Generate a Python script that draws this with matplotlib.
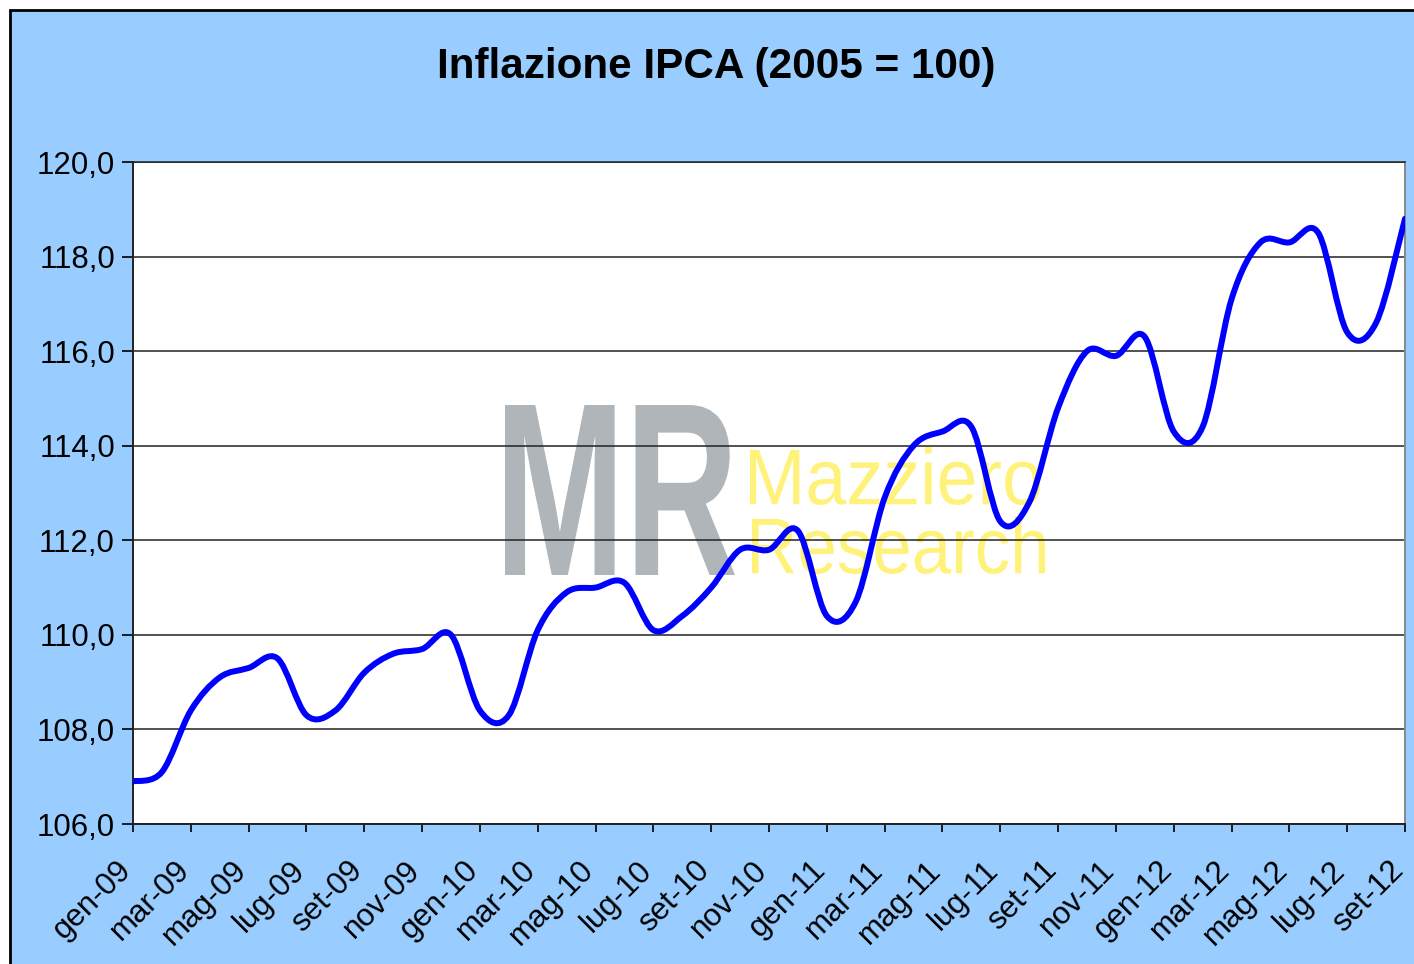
import numpy as np
import matplotlib
matplotlib.use("Agg")
import matplotlib.pyplot as plt
from matplotlib.path import Path
from matplotlib.patches import PathPatch, Rectangle
from matplotlib.textpath import TextPath
from matplotlib.font_manager import FontProperties
from matplotlib.transforms import Affine2D, ScaledTranslation

plt.rcParams['font.family'] = ['Liberation Sans', 'DejaVu Sans']

# IPCA index, monthly from gen-09 to set-12
ipca_2009 = [106.9, 107.1, 108.4, 109.1, 109.3, 109.5, 108.3, 108.4, 109.2, 109.6, 109.7, 110.0]
ipca_2010 = [108.4, 108.3, 110.1, 110.9, 111.0, 111.1, 110.1, 110.4, 111.0, 111.8, 111.8, 112.2]
ipca_2011 = [110.4, 110.7, 112.9, 114.0, 114.3, 114.4, 112.4, 112.8, 114.8, 116.0, 115.9, 116.3]
ipca_2012 = [114.3, 114.4, 117.1, 118.3, 118.3, 118.5, 116.4, 116.6, 118.8]

x_labels = ['gen-09', 'mar-09', 'mag-09', 'lug-09', 'set-09', 'nov-09',
            'gen-10', 'mar-10', 'mag-10', 'lug-10', 'set-10', 'nov-10',
            'gen-11', 'mar-11', 'mag-11', 'lug-11', 'set-11', 'nov-11',
            'gen-12', 'mar-12', 'mag-12', 'lug-12', 'set-12']
y_ticks = [106, 108, 110, 112, 114, 116, 118, 120]

values = np.array(ipca_2009 + ipca_2010 + ipca_2011 + ipca_2012)
months = np.arange(len(values))

W, H, DPI = 1414, 964, 100
fig = plt.figure(figsize=(W / DPI, H / DPI), dpi=DPI)
fig.patch.set_facecolor('white')

# blue chart frame
frame = Rectangle((10 / DPI, -1), (W + 20) / DPI, (H - 10) / DPI + 1,
                  transform=fig.dpi_scale_trans, facecolor='#99CCFF',
                  edgecolor='black', linewidth=2, zorder=0)
fig.add_artist(frame)

ax = fig.add_axes([133 / W, 1 - 824 / H, (1405 - 133) / W, (824 - 162) / H])
ax.set_facecolor('white')
ax.set_zorder(1)


def px_box_path(text, x0, y0, x1, y1, weight='normal'):
    # text path stretched into a pixel box (y measured from the top)
    tp = TextPath((0, 0), text, size=1, prop=FontProperties(family='Liberation Sans', weight=weight))
    ext = tp.get_extents()
    sx = (x1 - x0) / ext.width / DPI
    sy = (y1 - y0) / ext.height / DPI
    tr = Affine2D().translate(-ext.x0, -ext.y0).scale(sx, sy).translate(x0 / DPI, (H - y1) / DPI)
    return tr.transform_path(tp)


# watermark
for txt, box, col, wt in [('MR', (505, 405, 735, 575), '#AFB5B9', 'bold'),
                          ('Mazziero', (750, 447, 1040, 505), '#FFF27A', 'normal'),
                          ('Research', (752, 516, 1045, 574), '#FFF27A', 'normal')]:
    p = px_box_path(txt, *box, weight=wt)
    ax.add_patch(PathPatch(p, transform=fig.dpi_scale_trans, facecolor=col,
                           edgecolor='none', zorder=0.6, clip_on=False))

# smoothed line (Catmull-Rom as cubic Bezier segments)
pts = np.column_stack([months, values])
ext_pts = np.vstack([pts[0], pts, pts[-1]])
verts = [pts[0]]
codes = [Path.MOVETO]
for i in range(len(pts) - 1):
    p0, p1, p2, p3 = ext_pts[i], ext_pts[i + 1], ext_pts[i + 2], ext_pts[i + 3]
    c1 = p1 + (p2 - p0) / 6
    c2 = p2 - (p3 - p1) / 6
    verts += [c1, c2, p2]
    codes += [Path.CURVE4] * 3
ax.add_patch(PathPatch(Path(verts, codes), facecolor='none', edgecolor='#0000FF',
                       linewidth=4.3, capstyle='round', joinstyle='round', zorder=3))

ax.set_xlim(0, len(values) - 1)
ax.set_ylim(106, 120)
ax.set_yticks(y_ticks)
ax.set_yticklabels([f"{v:.1f}".replace('.', ',') for v in y_ticks], fontsize=22.5)
ax.set_xticks(months[::2])
ax.set_xticklabels(x_labels, fontsize=22.5, rotation=45, ha='right', va='center',
                   rotation_mode='anchor')
ax.tick_params(axis='y', direction='out', length=8, width=1.2, pad=5)
ax.tick_params(axis='x', direction='out', length=6, width=1.2, pad=24)
shift = ScaledTranslation(-6 / DPI, 0, fig.dpi_scale_trans)
for lab in ax.get_xticklabels():
    lab.set_transform(lab.get_transform() + shift)
ax.grid(axis='y', color='#222222', linewidth=1.1, zorder=1)

for s in ['left', 'bottom']:
    ax.spines[s].set_color('#222222')
    ax.spines[s].set_linewidth(1.4)
ax.spines['top'].set_color('#222222')
ax.spines['top'].set_linewidth(1.1)
ax.spines['right'].set_color('#888888')
ax.spines['right'].set_linewidth(1.4)

fig.text(716 / W, 1 - 67 / H, 'Inflazione IPCA (2005 = 100)', fontsize=30.4,
         fontweight='bold', ha='center', va='center')

fig.savefig('out.png', dpi=DPI)
